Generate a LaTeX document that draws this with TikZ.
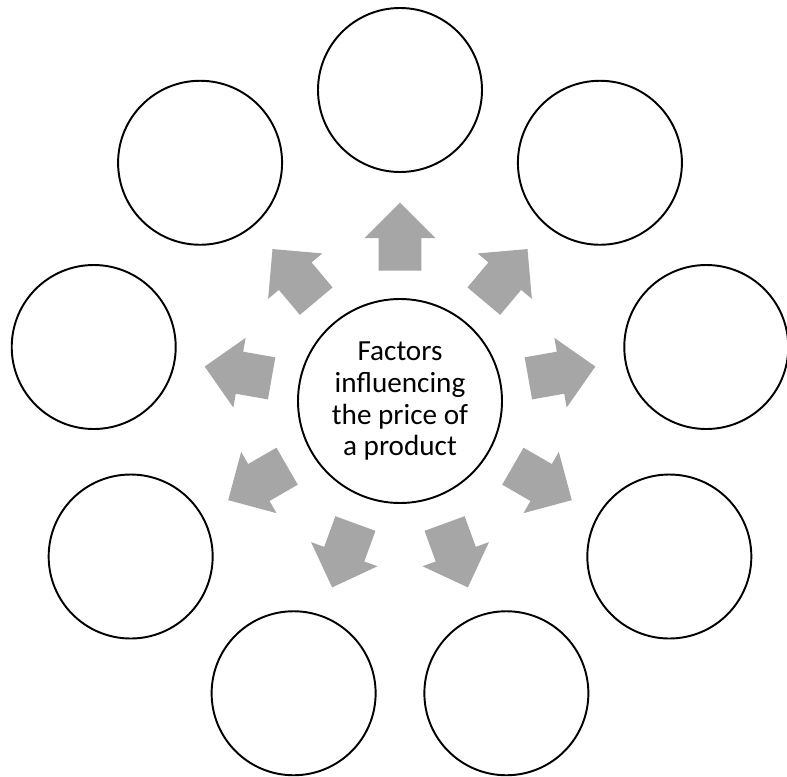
\documentclass[tikz,border=0pt]{standalone}
\usepackage{fontspec}
\setmainfont{Carlito}
\usetikzlibrary{shapes.arrows}
\definecolor{arrowgray}{RGB}{166,166,166}

\begin{document}
\begin{tikzpicture}[
    every node/.style={font=\fontsize{16.6}{18.2}\selectfont},
    hub/.style={draw, circle, line width=1.1pt, minimum size=4.08cm, align=center, inner sep=0pt},
    leaf/.style={draw, circle, line width=1.1pt, minimum size=3.28cm},
    blockarrow/.style={single arrow, fill=arrowgray, draw=none, minimum height=1.36cm, inner xsep=0pt, inner ysep=0.42cm, single arrow head extend=0.28cm},
  ]
  \useasboundingbox (-8.0,-7.5) rectangle (7.74,8.02);
  \node[hub] (hub) at (0,0) {Factors\\ influencing\\ the price of\\ a product};
  \foreach \i in {0,...,8} {
    \pgfmathsetmacro{\ang}{90-40*\i}
    \node[leaf] (leaf\i) at (\ang:6.22) {};
    \node[blockarrow, rotate=\ang, anchor=tail] (arr\i) at (\ang:2.6) {};
  }
\end{tikzpicture}
\end{document}
